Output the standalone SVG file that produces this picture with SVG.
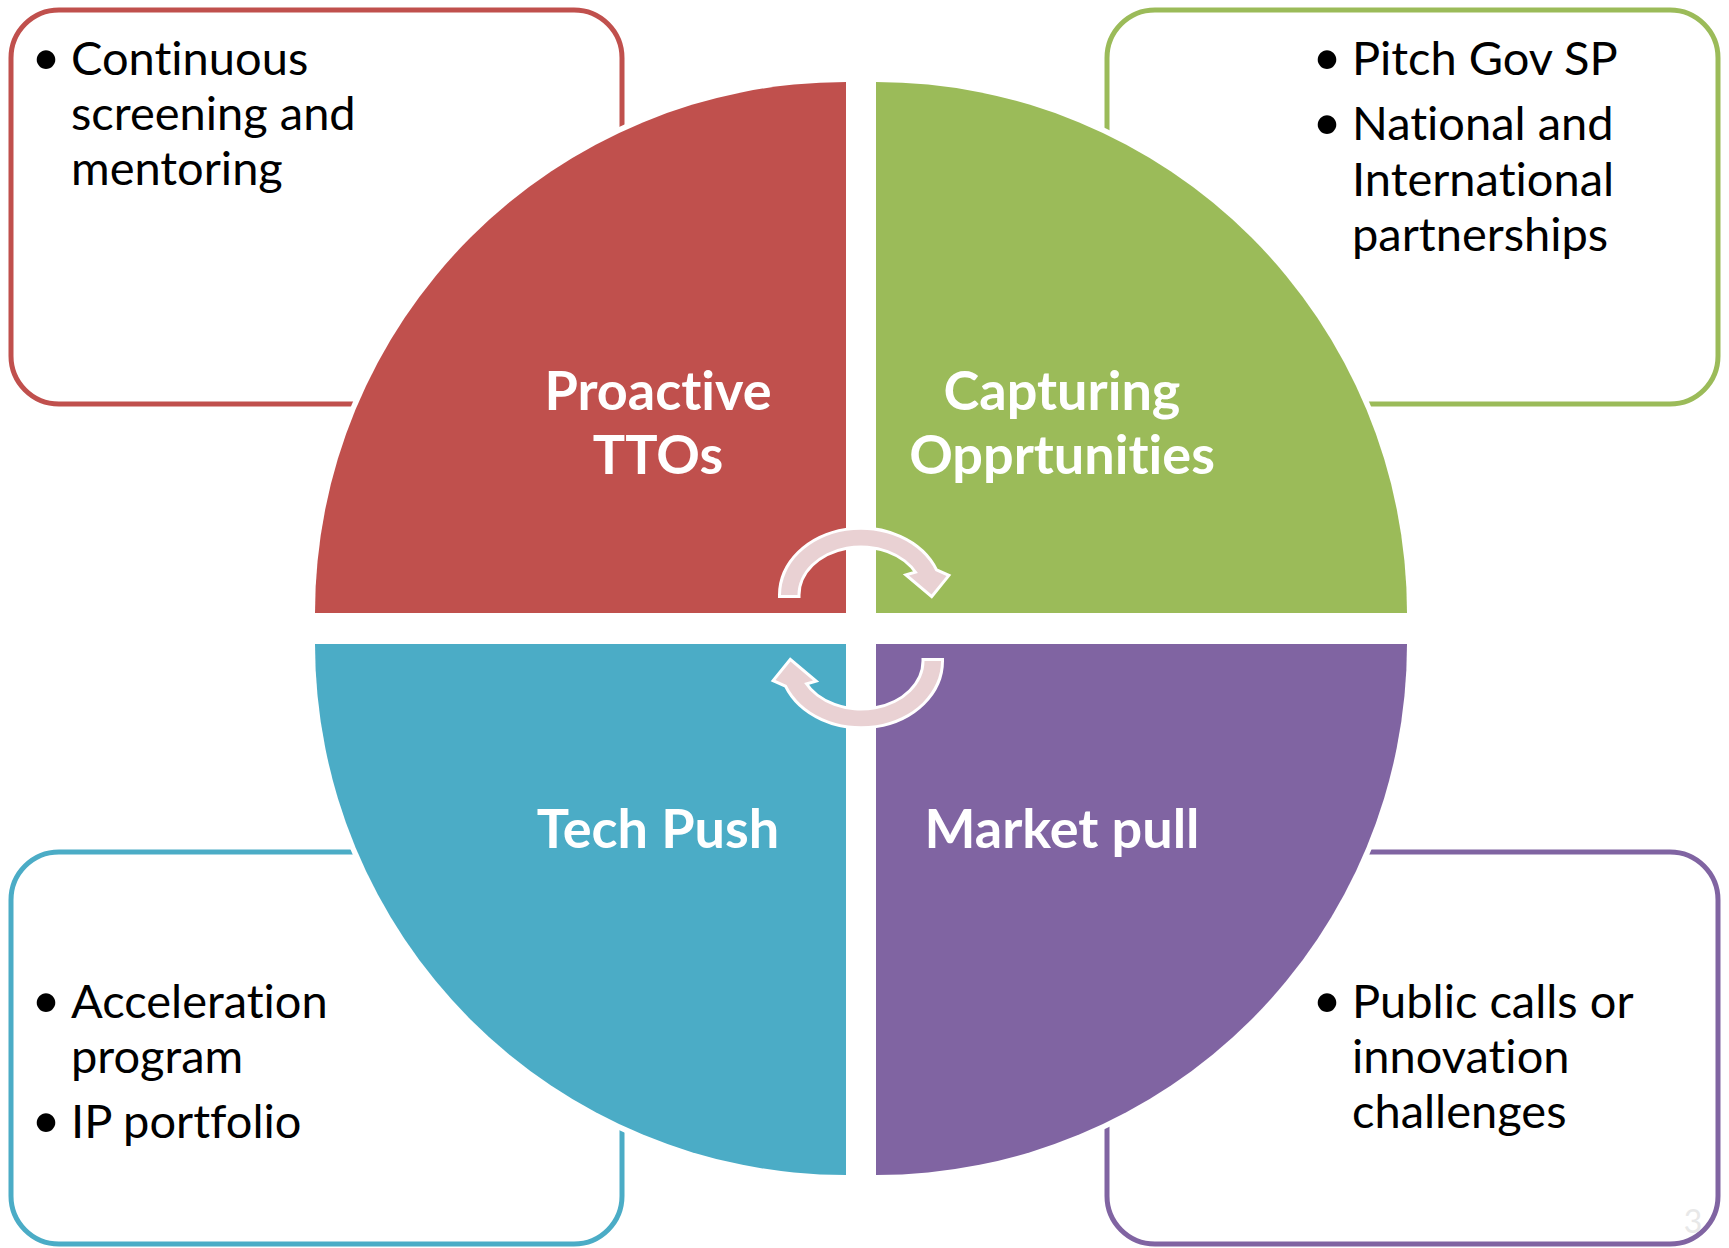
<svg xmlns="http://www.w3.org/2000/svg" xmlns:xlink="http://www.w3.org/1999/xlink" width="1729" height="1248" viewBox="0 0 1729 1248">
<style>
.box{fill:#FFFFFF;stroke-width:5}
.quad{stroke:#FFFFFF;stroke-width:11;paint-order:stroke}
.title{font-family:Lato,"Liberation Sans",sans-serif;font-weight:700;font-size:54px;fill:#FFFFFF;text-anchor:middle;font-variant-ligatures:none}
.body{font-family:Lato,"Liberation Sans",sans-serif;font-size:47px;fill:#000000;font-variant-ligatures:none}
.bul{font-family:Lato,"Liberation Sans",sans-serif;font-size:50px;fill:#000000;text-anchor:middle}
.arrow{fill:#E9D1D3;stroke:#FFFFFF;stroke-width:6;paint-order:stroke;stroke-linejoin:miter}
</style>
<defs>
<path id="cyc" d="M 781 595 A 80 65.3 0 0 1 935.4 571 L 946.5 576 L 931.5 594.5 L 909 575.5 L 917.9 573 A 63.5 49.5 0 0 0 797.5 595 Z"/>
</defs>
<rect width="1729" height="1248" fill="#FFFFFF"/>
<g id="box-tl"><rect class="box" x="11" y="10" width="611" height="394" rx="48" stroke="#C0504D"/></g>
<g id="box-tr"><rect class="box" x="1107" y="10" width="611" height="394" rx="48" stroke="#9BBB59"/></g>
<g id="box-bl"><rect class="box" x="11" y="852" width="611" height="392" rx="48" stroke="#4BACC6"/></g>
<g id="box-br"><rect class="box" x="1107" y="852" width="611" height="392" rx="48" stroke="#8064A2"/></g>
<g id="proactive-ttos">
<path class="quad" fill="#C0504D" d="M 846 613 L 846 82 A 531 531 0 0 0 315 613 Z"/>
<text class="title" x="658" y="410">Proactive</text>
<text class="title" x="658" y="474">TTOs</text>
</g>
<g id="capturing-opportunities">
<path class="quad" fill="#9BBB59" d="M 876 613 L 876 82 A 531 531 0 0 1 1407 613 Z"/>
<text class="title" x="1062" y="410">Capturing</text>
<text class="title" x="1062" y="474">Opprtunities</text>
</g>
<g id="tech-push">
<path class="quad" fill="#4BACC6" d="M 846 644 L 315 644 A 531 531 0 0 0 846 1175 Z"/>
<text class="title" x="658" y="848">Tech Push</text>
</g>
<g id="market-pull">
<path class="quad" fill="#8064A2" d="M 876 644 L 1407 644 A 531 531 0 0 1 876 1175 Z"/>
<text class="title" x="1062" y="848">Market pull</text>
</g>
<g id="connectors">
<use xlink:href="#cyc" href="#cyc" class="arrow"/>
<use xlink:href="#cyc" href="#cyc" class="arrow" transform="rotate(180 861 628)"/>
</g>
<g id="text-tl">
<text class="bul" x="46" y="75">•</text>
<text class="body" x="71" y="75">Continuous</text>
<text class="body" x="71" y="130">screening and</text>
<text class="body" x="71" y="185">mentoring</text>
</g>
<g id="text-tr">
<text class="bul" x="1327" y="75">•</text>
<text class="body" x="1352" y="75">Pitch Gov SP</text>
<text class="bul" x="1327" y="140">•</text>
<text class="body" x="1352" y="140">National and</text>
<text class="body" x="1352" y="196">International</text>
<text class="body" x="1352" y="251">partnerships</text>
</g>
<g id="text-bl">
<text class="bul" x="46" y="1018">•</text>
<text class="body" x="71" y="1018">Acceleration</text>
<text class="body" x="71" y="1073">program</text>
<text class="bul" x="46" y="1138">•</text>
<text class="body" x="71" y="1138">IP portfolio</text>
</g>
<g id="text-br">
<text class="bul" x="1327" y="1018">•</text>
<text class="body" x="1352" y="1018">Public calls or</text>
<text class="body" x="1352" y="1073">innovation</text>
<text class="body" x="1352" y="1128">challenges</text>
</g>
<g id="page-number">
<text x="1693" y="1233" font-family="Lato,'Liberation Sans',sans-serif" font-size="32" fill="#E8E8E8" text-anchor="middle">3</text>
</g>
</svg>
